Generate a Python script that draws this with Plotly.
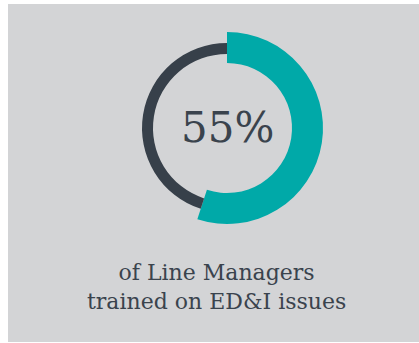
import plotly.graph_objects as go

# Share of line managers trained on ED&I issues
labels = ["Trained", "Not trained"]
values = [55, 45]
headline = "55%"
caption = "of Line Managers<br>trained on ED&amp;I issues"

W, H = 419, 343
TEAL = "#00A9A8"
DARK = "#37404A"
PANEL = "#D3D4D6"
TEXT = "#3A434D"
CLEAR = "rgba(0,0,0,0)"
SERIF = "'DejaVu Serif', serif"

cx, cy = 227, 128  # ring centre in pixels (from top-left)


def domain(r):
    return dict(
        x=[(cx - r) / W, (cx + r) / W],
        y=[1 - (cy + r) / H, 1 - (cy - r) / H],
    )


fig = go.Figure()

# thick teal arc for the trained share
fig.add_trace(go.Pie(
    labels=labels, values=values, sort=False, direction="clockwise", rotation=0,
    hole=65 / 96, domain=domain(96),
    marker=dict(colors=[TEAL, CLEAR], line=dict(width=0)),
    textinfo="none", hoverinfo="label+percent",
))

# thinner dark arc for the remainder
fig.add_trace(go.Pie(
    labels=labels, values=values, sort=False, direction="clockwise", rotation=0,
    hole=74 / 85, domain=domain(85),
    marker=dict(colors=[CLEAR, DARK], line=dict(width=0)),
    textinfo="none", hoverinfo="label+percent",
))

fig.update_layout(
    width=W, height=H,
    margin=dict(l=0, r=0, t=0, b=0),
    paper_bgcolor="white", plot_bgcolor="white",
    showlegend=False,
    shapes=[dict(type="rect", xref="paper", yref="paper",
                 x0=8 / W, x1=1, y0=1 - 342 / H, y1=1 - 4 / H,
                 fillcolor=PANEL, line=dict(width=0), layer="below")],
    annotations=[
        dict(text=headline, x=cx / W, y=1 - 127 / H, xref="paper", yref="paper",
             xanchor="center", yanchor="middle", showarrow=False,
             font=dict(family=SERIF, size=42, color=TEXT)),
        dict(text=caption, x=216 / W, y=1 - 287 / H, xref="paper", yref="paper",
             xanchor="center", yanchor="middle", showarrow=False,
             font=dict(family=SERIF, size=22, color=TEXT)),
    ],
)

fig.write_html("out.html")
